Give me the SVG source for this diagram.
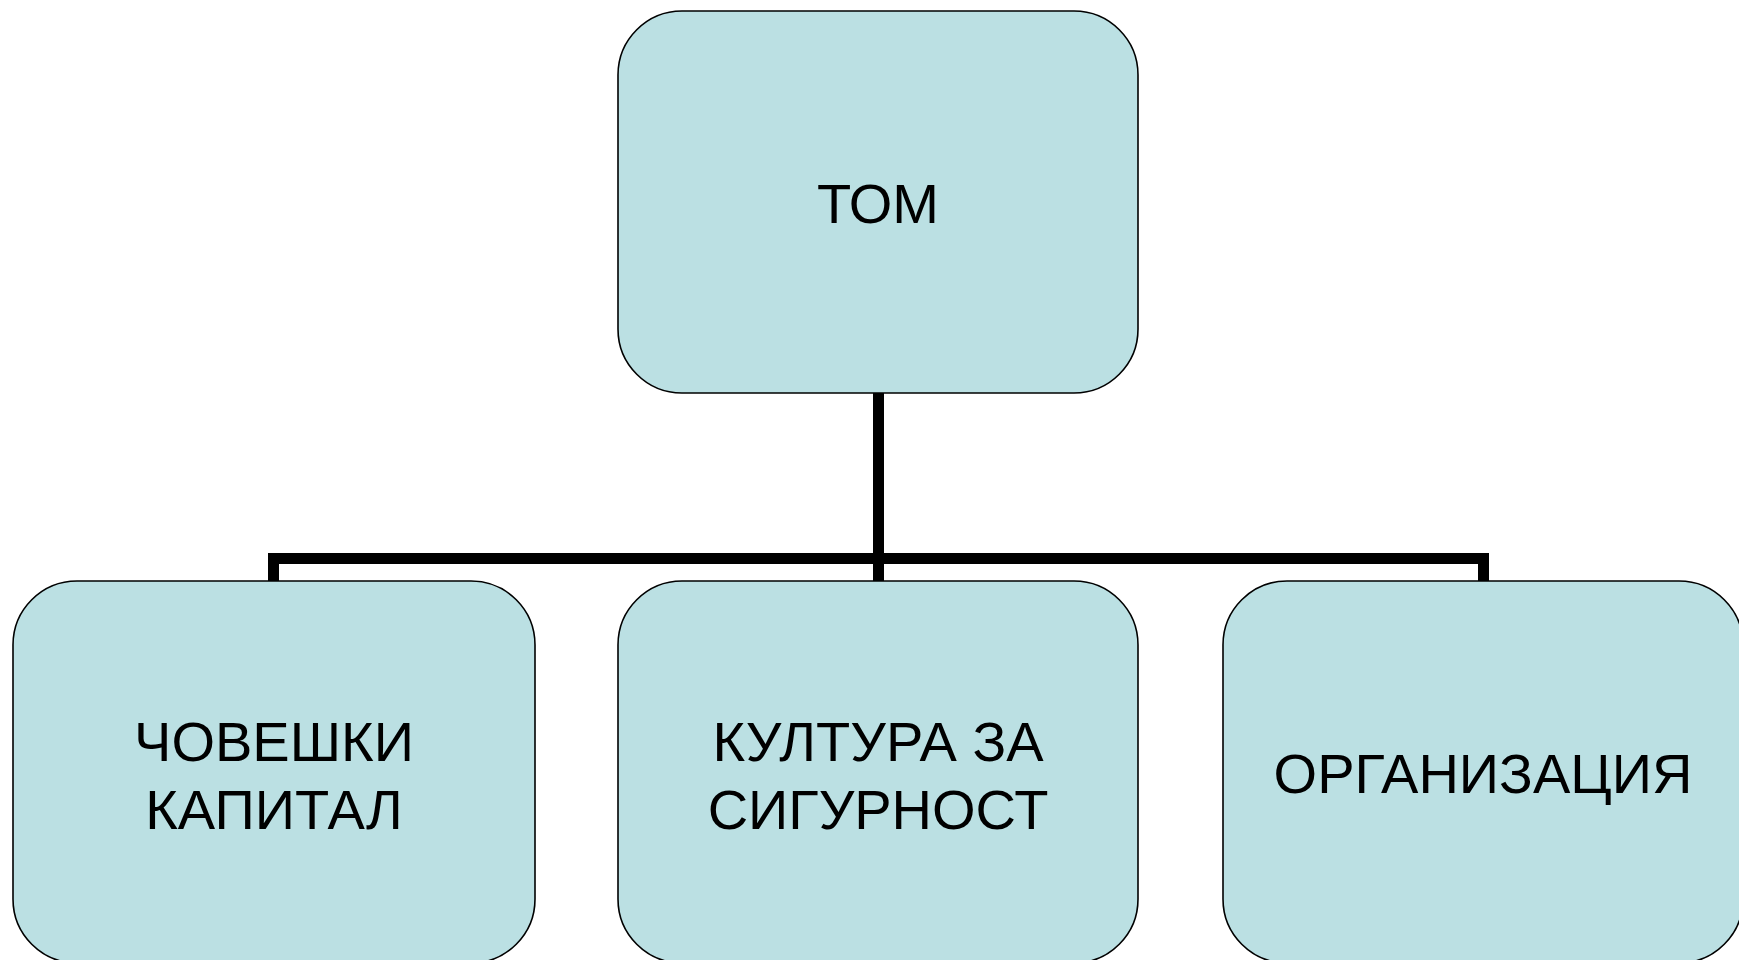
<svg xmlns="http://www.w3.org/2000/svg" width="1739" height="960" viewBox="0 0 1739 960">
<style>
.node{fill:#bbe0e3;stroke:#000;stroke-width:1.6}
.lbl{font-family:"Liberation Sans",Arial,sans-serif;font-size:56px;fill:#000;text-anchor:middle}
.conn{fill:none;stroke:#000;stroke-width:11;stroke-linejoin:miter;stroke-linecap:butt}
</style>
<rect width="1739" height="960" fill="#fff"/>
<g id="connectors">
<path class="conn" d="M273.5 581 V558.5 H1483.5 V581"/>
<path class="conn" d="M878.5 393 V581"/>
</g>
<g id="node-tom">
<rect class="node" x="618" y="11" width="520" height="382" rx="64" ry="64"/>
<text class="lbl" x="878" y="223">ТОМ</text>
</g>
<g id="node-human">
<rect class="node" x="13" y="581" width="522" height="382" rx="64" ry="64"/>
<text class="lbl" x="274" y="761">ЧОВЕШКИ</text>
<text class="lbl" x="274" y="829">КАПИТАЛ</text>
</g>
<g id="node-culture">
<rect class="node" x="618" y="581" width="520" height="382" rx="64" ry="64"/>
<text class="lbl" x="878" y="761">КУЛТУРА ЗА</text>
<text class="lbl" x="878" y="829">СИГУРНОСТ</text>
</g>
<g id="node-org">
<rect class="node" x="1223" y="581" width="520" height="382" rx="64" ry="64"/>
<text class="lbl" x="1483" y="793">ОРГАНИЗАЦИЯ</text>
</g>
</svg>
